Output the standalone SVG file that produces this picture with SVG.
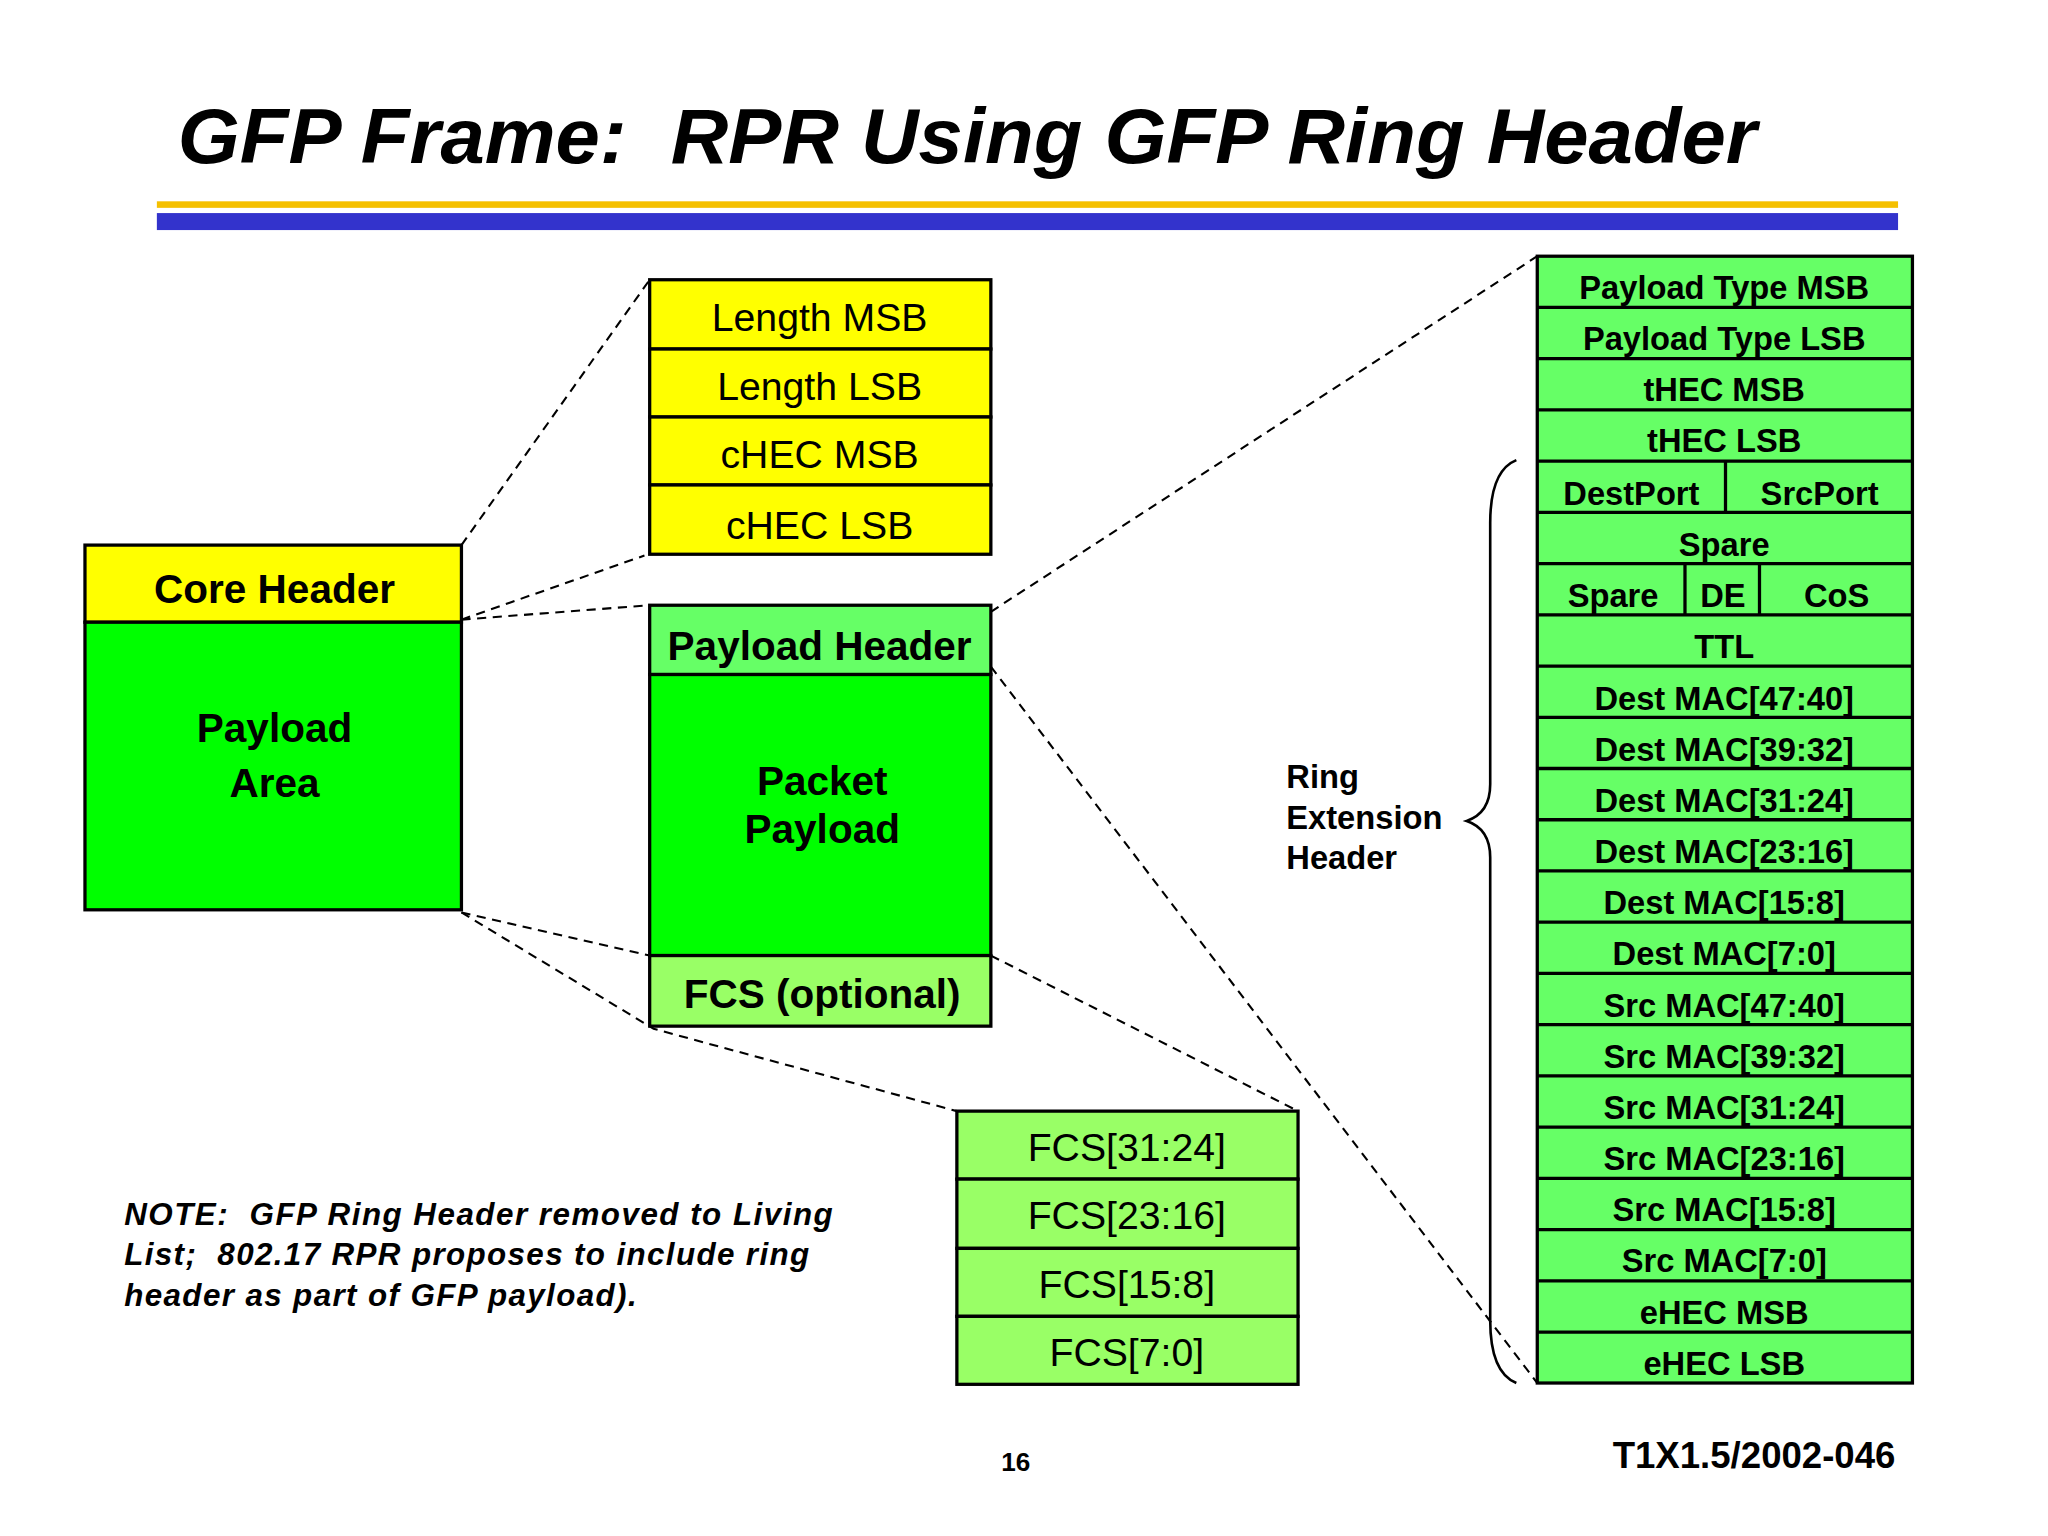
<svg xmlns="http://www.w3.org/2000/svg" width="2048" height="1536" viewBox="0 0 2048 1536">
<style>
text{font-family:"Liberation Sans",Arial,sans-serif;fill:#000;text-anchor:middle}
.b{font-weight:bold}
.box{stroke:#000;stroke-width:2.5}
.y{fill:#ffff00}.g{fill:#00ff00}.lg{fill:#66ff66}.pg{fill:#99ff66}
.d{stroke:#000;stroke-width:1.6;stroke-dasharray:7,5;fill:none}
.r{font-size:30px}.bb{font-size:31px;font-weight:bold}.s{font-size:25px;font-weight:bold}
</style>
<rect width="2048" height="1536" fill="#fff"/>
<g transform="scale(1.3072)">
<text x="136" y="125" style="font-size:60px;font-weight:bold;font-style:italic;text-anchor:start" textLength="1208" lengthAdjust="spacingAndGlyphs">GFP Frame:&#160; RPR Using GFP Ring Header</text>
<rect x="120" y="154" width="1332" height="5" fill="#f5c000"/>
<rect x="120" y="163" width="1332" height="13" fill="#3333cc"/>
<g id="connectors">
<line class="d" x1="353" y1="417" x2="497" y2="214"/>
<line class="d" x1="353" y1="474" x2="493" y2="425"/>
<line class="d" x1="353" y1="474" x2="497" y2="463"/>
<line class="d" x1="353" y1="698" x2="497" y2="731"/>
<polyline class="d" points="353,698 500,787 732,850"/>
<line class="d" x1="758" y1="468" x2="1176" y2="196"/>
<line class="d" x1="758" y1="510" x2="1176" y2="1058"/>
<line class="d" x1="758" y1="731" x2="993" y2="850"/>
</g>
<g id="core">
<rect class="box y" x="65" y="417" width="288" height="59"/>
<rect class="box g" x="65" y="476" width="288" height="220"/>
<text class="bb" x="210" y="461">Core Header</text>
<text class="bb" x="210" y="568">Payload</text>
<text class="bb" x="210" y="610">Area</text>
</g>
<g id="corehdr">
<rect class="box y" x="497" y="214" width="261" height="53"/>
<rect class="box y" x="497" y="267" width="261" height="52"/>
<rect class="box y" x="497" y="319" width="261" height="52"/>
<rect class="box y" x="497" y="371" width="261" height="53"/>
<text class="r" x="627" y="253">Length MSB</text>
<text class="r" x="627" y="306">Length LSB</text>
<text class="r" x="627" y="358">cHEC MSB</text>
<text class="r" x="627" y="412">cHEC LSB</text>
</g>
<g id="payload">
<rect class="box lg" x="497" y="463" width="261" height="53"/>
<rect class="box g" x="497" y="516" width="261" height="215"/>
<rect class="box pg" x="497" y="731" width="261" height="54"/>
<text class="bb" x="627" y="505">Payload Header</text>
<text class="bb" x="629" y="608">Packet</text>
<text class="bb" x="629" y="645">Payload</text>
<text class="bb" x="629" y="771">FCS (optional)</text>
</g>
<g id="fcs">
<rect class="box pg" x="732" y="850" width="261" height="52"/>
<rect class="box pg" x="732" y="902" width="261" height="53"/>
<rect class="box pg" x="732" y="955" width="261" height="52"/>
<rect class="box pg" x="732" y="1007" width="261" height="52"/>
<text class="r" x="862" y="888">FCS[31:24]</text>
<text class="r" x="862" y="940">FCS[23:16]</text>
<text class="r" x="862" y="993">FCS[15:8]</text>
<text class="r" x="862" y="1045">FCS[7:0]</text>
</g>
<g id="ringhdr">
<rect class="box lg" x="1176" y="196" width="287" height="862"/>
<g stroke="#000" stroke-width="2.5">
<line x1="1176" y1="235.2" x2="1463" y2="235.2"/><line x1="1176" y1="274.4" x2="1463" y2="274.4"/>
<line x1="1176" y1="313.6" x2="1463" y2="313.6"/><line x1="1176" y1="352.7" x2="1463" y2="352.7"/>
<line x1="1176" y1="391.9" x2="1463" y2="391.9"/><line x1="1176" y1="431.1" x2="1463" y2="431.1"/>
<line x1="1176" y1="470.3" x2="1463" y2="470.3"/><line x1="1176" y1="509.5" x2="1463" y2="509.5"/>
<line x1="1176" y1="548.7" x2="1463" y2="548.7"/><line x1="1176" y1="587.9" x2="1463" y2="587.9"/>
<line x1="1176" y1="627.1" x2="1463" y2="627.1"/><line x1="1176" y1="666.3" x2="1463" y2="666.3"/>
<line x1="1176" y1="705.5" x2="1463" y2="705.5"/><line x1="1176" y1="744.6" x2="1463" y2="744.6"/>
<line x1="1176" y1="783.8" x2="1463" y2="783.8"/><line x1="1176" y1="823" x2="1463" y2="823"/>
<line x1="1176" y1="862.2" x2="1463" y2="862.2"/><line x1="1176" y1="901.4" x2="1463" y2="901.4"/>
<line x1="1176" y1="940.6" x2="1463" y2="940.6"/><line x1="1176" y1="979.8" x2="1463" y2="979.8"/>
<line x1="1176" y1="1019" x2="1463" y2="1019"/>
<line x1="1320" y1="352.7" x2="1320" y2="391.9"/>
<line x1="1289" y1="431.1" x2="1289" y2="470.3"/><line x1="1346" y1="431.1" x2="1346" y2="470.3"/>
</g>
<text class="s" x="1319" y="229">Payload Type MSB</text>
<text class="s" x="1319" y="268">Payload Type LSB</text>
<text class="s" x="1319" y="307">tHEC MSB</text>
<text class="s" x="1319" y="346">tHEC LSB</text>
<text class="s" x="1248" y="386">DestPort</text>
<text class="s" x="1392" y="386">SrcPort</text>
<text class="s" x="1319" y="425">Spare</text>
<text class="s" x="1234" y="464">Spare</text>
<text class="s" x="1318" y="464">DE</text>
<text class="s" x="1405" y="464">CoS</text>
<text class="s" x="1319" y="503">TTL</text>
<text class="s" x="1319" y="543">Dest MAC[47:40]</text>
<text class="s" x="1319" y="582">Dest MAC[39:32]</text>
<text class="s" x="1319" y="621">Dest MAC[31:24]</text>
<text class="s" x="1319" y="660">Dest MAC[23:16]</text>
<text class="s" x="1319" y="699">Dest MAC[15:8]</text>
<text class="s" x="1319" y="738">Dest MAC[7:0]</text>
<text class="s" x="1319" y="778">Src MAC[47:40]</text>
<text class="s" x="1319" y="817">Src MAC[39:32]</text>
<text class="s" x="1319" y="856">Src MAC[31:24]</text>
<text class="s" x="1319" y="895">Src MAC[23:16]</text>
<text class="s" x="1319" y="934">Src MAC[15:8]</text>
<text class="s" x="1319" y="973">Src MAC[7:0]</text>
<text class="s" x="1319" y="1013">eHEC MSB</text>
<text class="s" x="1319" y="1052">eHEC LSB</text>
</g>
<g id="brace">
<path d="M1160,352 Q1140,360 1140,400 L1140,600 Q1140,622 1122,628 Q1140,634 1140,656 L1140,1010 Q1140,1050 1160,1058" fill="none" stroke="#000" stroke-width="2"/>
<text class="s" style="text-anchor:start" x="984" y="603">Ring</text>
<text class="s" style="text-anchor:start" x="984" y="634">Extension</text>
<text class="s" style="text-anchor:start" x="984" y="665">Header</text>
</g>
<g id="note" style="font-size:24px;font-weight:bold;font-style:italic">
<text style="text-anchor:start" x="95" y="937" textLength="542">NOTE:&#160; GFP Ring Header removed to Living</text>
<text style="text-anchor:start" x="95" y="968" textLength="524">List;&#160; 802.17 RPR proposes to include ring</text>
<text style="text-anchor:start" x="95" y="999" textLength="392">header as part of GFP payload).</text>
</g>
<text class="b" x="777" y="1125" style="font-size:20px">16</text>
<text class="b" x="1450" y="1123" style="font-size:28px;text-anchor:end">T1X1.5/2002-046</text>
</g>
</svg>
